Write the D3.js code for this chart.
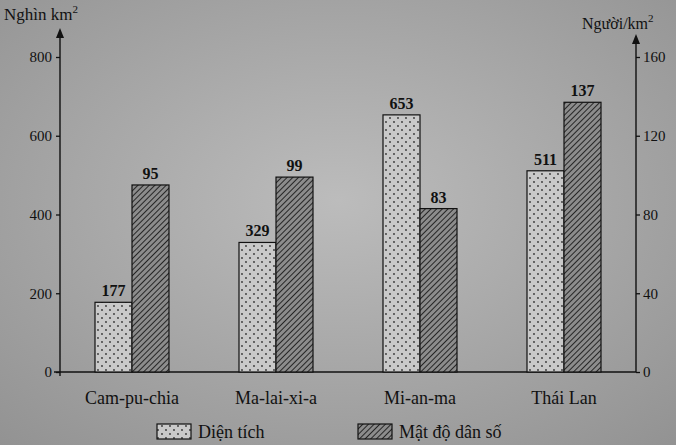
<!DOCTYPE html>
<html><head><meta charset="utf-8">
<script src="https://cdn.jsdelivr.net/npm/d3@7"></script>
<style>body{margin:0;background:#a8a8a8;}svg{display:block;}</style>
</head><body>
<script>
const categories = ["Cam-pu-chia", "Ma-lai-xi-a", "Mi-an-ma", "Thái Lan"];
const areaValues = [177, 329, 653, 511];      // Nghìn km²
const densityValues = [95, 99, 83, 137];      // Người/km²
const leftTicks = [0, 200, 400, 600, 800];
const rightTicks = [0, 40, 80, 120, 160];
const legendLabels = ["Diện tích", "Mật độ dân số"];

const W = 676, H = 445;
const svg = d3.select("body").append("svg").attr("width", W).attr("height", H);
const font = "'Liberation Serif', 'DejaVu Serif', serif";

const defs = svg.append("defs");
const grad = defs.append("radialGradient").attr("id","bg").attr("cx","50%").attr("cy","45%").attr("r","75%");
grad.append("stop").attr("offset","0%").attr("stop-color","#bcbcbc");
grad.append("stop").attr("offset","100%").attr("stop-color","#929292");
svg.append("rect").attr("width",W).attr("height",H).attr("fill","url(#bg)");

const dots = defs.append("pattern").attr("id","dots").attr("patternUnits","userSpaceOnUse").attr("width",8).attr("height",8);
dots.append("rect").attr("width",8).attr("height",8).attr("fill","#c9c9c9");
dots.append("circle").attr("cx",2).attr("cy",2).attr("r",0.9).attr("fill","#333");
dots.append("circle").attr("cx",6).attr("cy",6).attr("r",0.9).attr("fill","#333");

const hatch = defs.append("pattern").attr("id","hatch").attr("patternUnits","userSpaceOnUse").attr("width",4).attr("height",4).attr("patternTransform","rotate(45)");
hatch.append("rect").attr("width",4).attr("height",4).attr("fill","#8c8c8c");
hatch.append("line").attr("x1",0).attr("y1",0).attr("x2",0).attr("y2",4).attr("stroke","#1a1a1a").attr("stroke-width",1.8);

const x0 = 60, x1 = 636, yBase = 372, yTop = 57;
const x = d3.scaleBand().domain(categories).range([x0, x1]).paddingInner(0.48).paddingOuter(0.24);
const yL = d3.scaleLinear().domain([0, 800]).range([yBase, yTop]);
const yR = d3.scaleLinear().domain([0, 160]).range([yBase, yTop]);
const bw = 37;

// axes
const axL = svg.append("g").attr("transform",`translate(${x0},0)`).call(d3.axisLeft(yL).tickValues(leftTicks).tickSize(4).tickPadding(4));
const axR = svg.append("g").attr("transform",`translate(${x1},0)`).call(d3.axisRight(yR).tickValues(rightTicks).tickSize(4).tickPadding(3));
[axL, axR].forEach(a => {
  a.select(".domain").remove();
  a.selectAll("line").attr("stroke","#111").attr("stroke-width",1.3);
  a.selectAll("text").attr("font-family",font).attr("font-size",15).attr("fill","#111");
});
svg.append("line").attr("x1",x0).attr("x2",x0).attr("y1",yBase+4).attr("y2",36).attr("stroke","#111").attr("stroke-width",1.4);
svg.append("line").attr("x1",x1).attr("x2",x1).attr("y1",yBase).attr("y2",42).attr("stroke","#111").attr("stroke-width",1.4);
svg.append("path").attr("d",`M${x0-4},${38}L${x0},${28}L${x0+4},${38}Z`).attr("fill","#111");
svg.append("path").attr("d",`M${x1-4},${44}L${x1},${34}L${x1+4},${44}Z`).attr("fill","#111");
svg.append("line").attr("x1",x0-6).attr("x2",x1).attr("y1",yBase).attr("y2",yBase).attr("stroke","#111").attr("stroke-width",1.5);

// titles
const t1 = svg.append("text").attr("x",4).attr("y",20).attr("font-family",font).attr("font-size",17).attr("fill","#111");
t1.append("tspan").text("Nghìn km");
t1.append("tspan").attr("dy",-7).attr("font-size",11).text("2");
const t2 = svg.append("text").attr("x",582).attr("y",29).attr("font-family",font).attr("font-size",16).attr("fill","#111");
t2.append("tspan").text("Người/km");
t2.append("tspan").attr("dy",-7).attr("font-size",11).text("2");

// bars
const g = svg.append("g");
categories.forEach((c, i) => {
  const cx = x(c) + x.bandwidth() / 2;
  const ya = yL(areaValues[i]), yd = yR(densityValues[i]);
  g.append("rect").attr("x",cx-bw).attr("y",ya).attr("width",bw).attr("height",yBase-ya)
    .attr("fill","url(#dots)").attr("stroke","#111").attr("stroke-width",1.2);
  g.append("rect").attr("x",cx).attr("y",yd).attr("width",bw).attr("height",yBase-yd)
    .attr("fill","url(#hatch)").attr("stroke","#111").attr("stroke-width",1.2);
  g.append("text").attr("x",cx-bw/2).attr("y",ya-6).attr("text-anchor","middle")
    .attr("font-family",font).attr("font-size",16).attr("font-weight","bold").attr("fill","#111").text(areaValues[i]);
  g.append("text").attr("x",cx+bw/2).attr("y",yd-6).attr("text-anchor","middle")
    .attr("font-family",font).attr("font-size",16).attr("font-weight","bold").attr("fill","#111").text(densityValues[i]);
  g.append("text").attr("x",cx).attr("y",404).attr("text-anchor","middle")
    .attr("font-family",font).attr("font-size",18).attr("fill","#111").text(c);
});

// legend
const leg = [{x:157, fill:"url(#dots)"}, {x:358, fill:"url(#hatch)"}];
leg.forEach((l, i) => {
  svg.append("rect").attr("x",l.x).attr("y",424).attr("width",34).attr("height",15)
    .attr("fill",l.fill).attr("stroke","#111").attr("stroke-width",1.2);
  svg.append("text").attr("x",l.x+41).attr("y",438).attr("font-family",font).attr("font-size",18)
    .attr("fill","#111").text(legendLabels[i]);
});
</script>
</body></html>
